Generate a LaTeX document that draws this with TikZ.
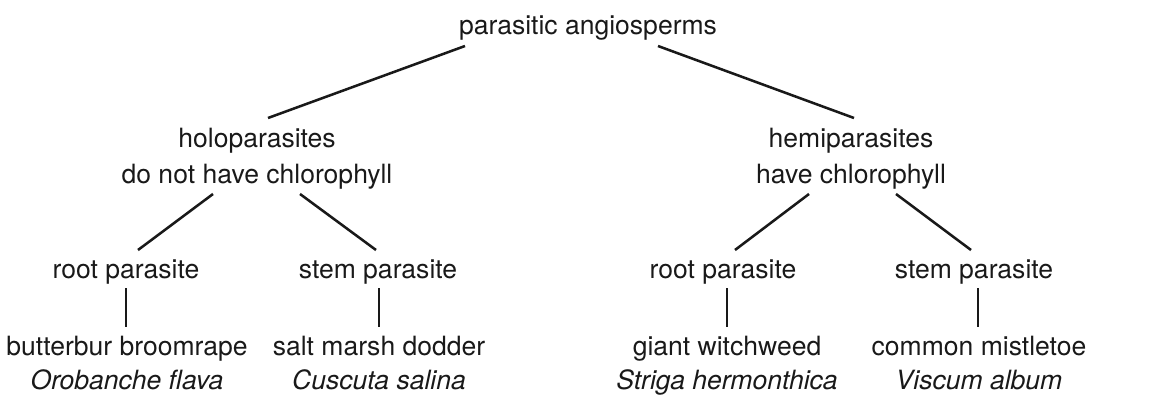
\documentclass[tikz,border=0pt]{standalone}
\usepackage{fontspec}
\setmainfont{TeX Gyre Heros}
\begin{document}
\begin{tikzpicture}[x=0.75pt,y=-0.75pt,
  lbl/.style={inner sep=0pt,anchor=base,align=center,text=black!90,font=\fontsize{19.9}{26.3}\selectfont},
  leaf/.style={lbl,font=\fontsize{19.9}{25.3}\selectfont},
  conn/.style={line width=1.9pt,draw=black!90}]
\useasboundingbox (0,0) rectangle (1163,396);
\node[lbl] (top) at (588,34) {parasitic angiosperms};
\node[lbl] (holo) at (257,183) {holoparasites\\do not have chlorophyll};
\node[lbl] (hemi) at (851,183) {hemiparasites\\have chlorophyll};
\node[lbl] (rootL) at (126,278) {root parasite};
\node[lbl] (stemL) at (378,278) {stem parasite};
\node[lbl] (rootR) at (723,278) {root parasite};
\node[lbl] (stemR) at (974,278) {stem parasite};
\node[leaf] (leaf1) at (127,389) {butterbur broomrape\\\textit{Orobanche flava}};
\node[leaf] (leaf2) at (379,389) {salt marsh dodder\\\textit{Cuscuta salina}};
\node[leaf] (leaf3) at (727,389) {giant witchweed\\\textit{Striga hermonthica}};
\node[leaf] (leaf4) at (979,389) {common mistletoe\\\textit{Viscum album}};
\draw[conn] ([shift={(-123,12)}]top.base) -- ([shift={(11,-65)}]holo.base);
\draw[conn] ([shift={(70,12)}]top.base) -- ([shift={(3,-65)}]hemi.base);
\draw[conn] ([shift={(-44,11)}]holo.base) -- ([shift={(12,-28)}]rootL.base);
\draw[conn] ([shift={(43,11)}]holo.base) -- ([shift={(-2,-28)}]stemL.base);
\draw[conn] ([shift={(-42,11)}]hemi.base) -- ([shift={(12,-28)}]rootR.base);
\draw[conn] ([shift={(45,11)}]hemi.base) -- ([shift={(-3,-28)}]stemR.base);
\draw[conn] ([shift={(0,10)}]rootL.base) -- ([shift={(-1,-62)}]leaf1.base);
\draw[conn] ([shift={(1,10)}]stemL.base) -- ([shift={(0,-62)}]leaf2.base);
\draw[conn] ([shift={(4,10)}]rootR.base) -- ([shift={(0,-62)}]leaf3.base);
\draw[conn] ([shift={(4,10)}]stemR.base) -- ([shift={(-1,-62)}]leaf4.base);
\end{tikzpicture}
\end{document}
